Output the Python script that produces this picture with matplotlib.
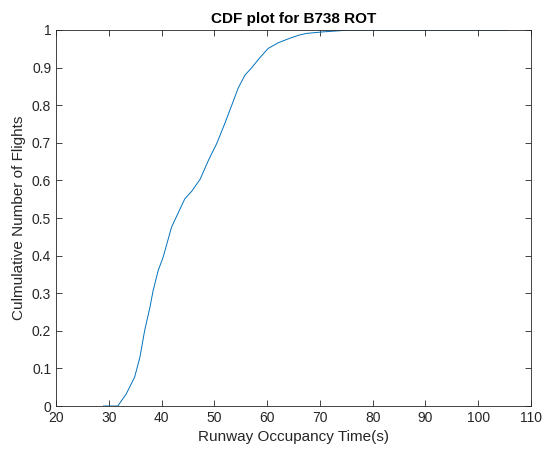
import numpy as np
import matplotlib.pyplot as plt

plt.rcParams['font.family'] = ['Liberation Sans', 'DejaVu Sans']

# values
rot = [29.0, 31.7, 33.3, 34.9, 35.9, 36.8, 37.8, 38.4, 39.35, 40.3, 41.0,
       41.9, 43.2, 44.4, 45.7, 47.3, 48.9, 50.45, 52.0, 53.3, 54.5, 55.8,
       57.1, 58.6, 60.2, 62.1, 64.3, 66.2, 67.5, 70.6, 75.7, 105.5]
cdf = [0.0, 0.0, 0.032, 0.077, 0.130, 0.201, 0.263, 0.307, 0.360, 0.396,
       0.431, 0.476, 0.515, 0.551, 0.571, 0.603, 0.654, 0.698, 0.752, 0.800,
       0.845, 0.880, 0.900, 0.926, 0.951, 0.966, 0.978, 0.987, 0.991, 0.995,
       1.0, 1.0]

xticks = np.arange(20, 111, 10)
yticks = np.round(np.arange(0, 1.01, 0.1), 1)
ylabels = ['0'] + [f'{v:g}' for v in yticks[1:-1]] + ['1']

fig = plt.figure(figsize=(5.46, 4.58), dpi=100)
ax = fig.add_axes([0.1026, 0.1135, 0.8699, 0.821])

ax.plot(rot, cdf, color='#0072BD', linewidth=0.7)

ax.set_xlim(20, 110)
ax.set_ylim(0, 1)
ax.set_xticks(xticks)
ax.set_yticks(yticks)
ax.set_yticklabels(ylabels)

ax.tick_params(direction='in', top=True, right=True, length=4, width=0.6,
               colors='#262626', labelsize=10, labelcolor='#262626')
for s in ax.spines.values():
    s.set_color('#262626')
    s.set_linewidth(0.6)

ax.set_xlabel('Runway Occupancy Time(s)', fontsize=11, color='#262626')
ax.set_ylabel('Culmulative Number of Flights', fontsize=11, color='#262626')
ax.set_title('CDF plot for B738 ROT', fontsize=11, fontweight='bold',
             color='black', pad=5)

plt.savefig('out.png', dpi=100)
